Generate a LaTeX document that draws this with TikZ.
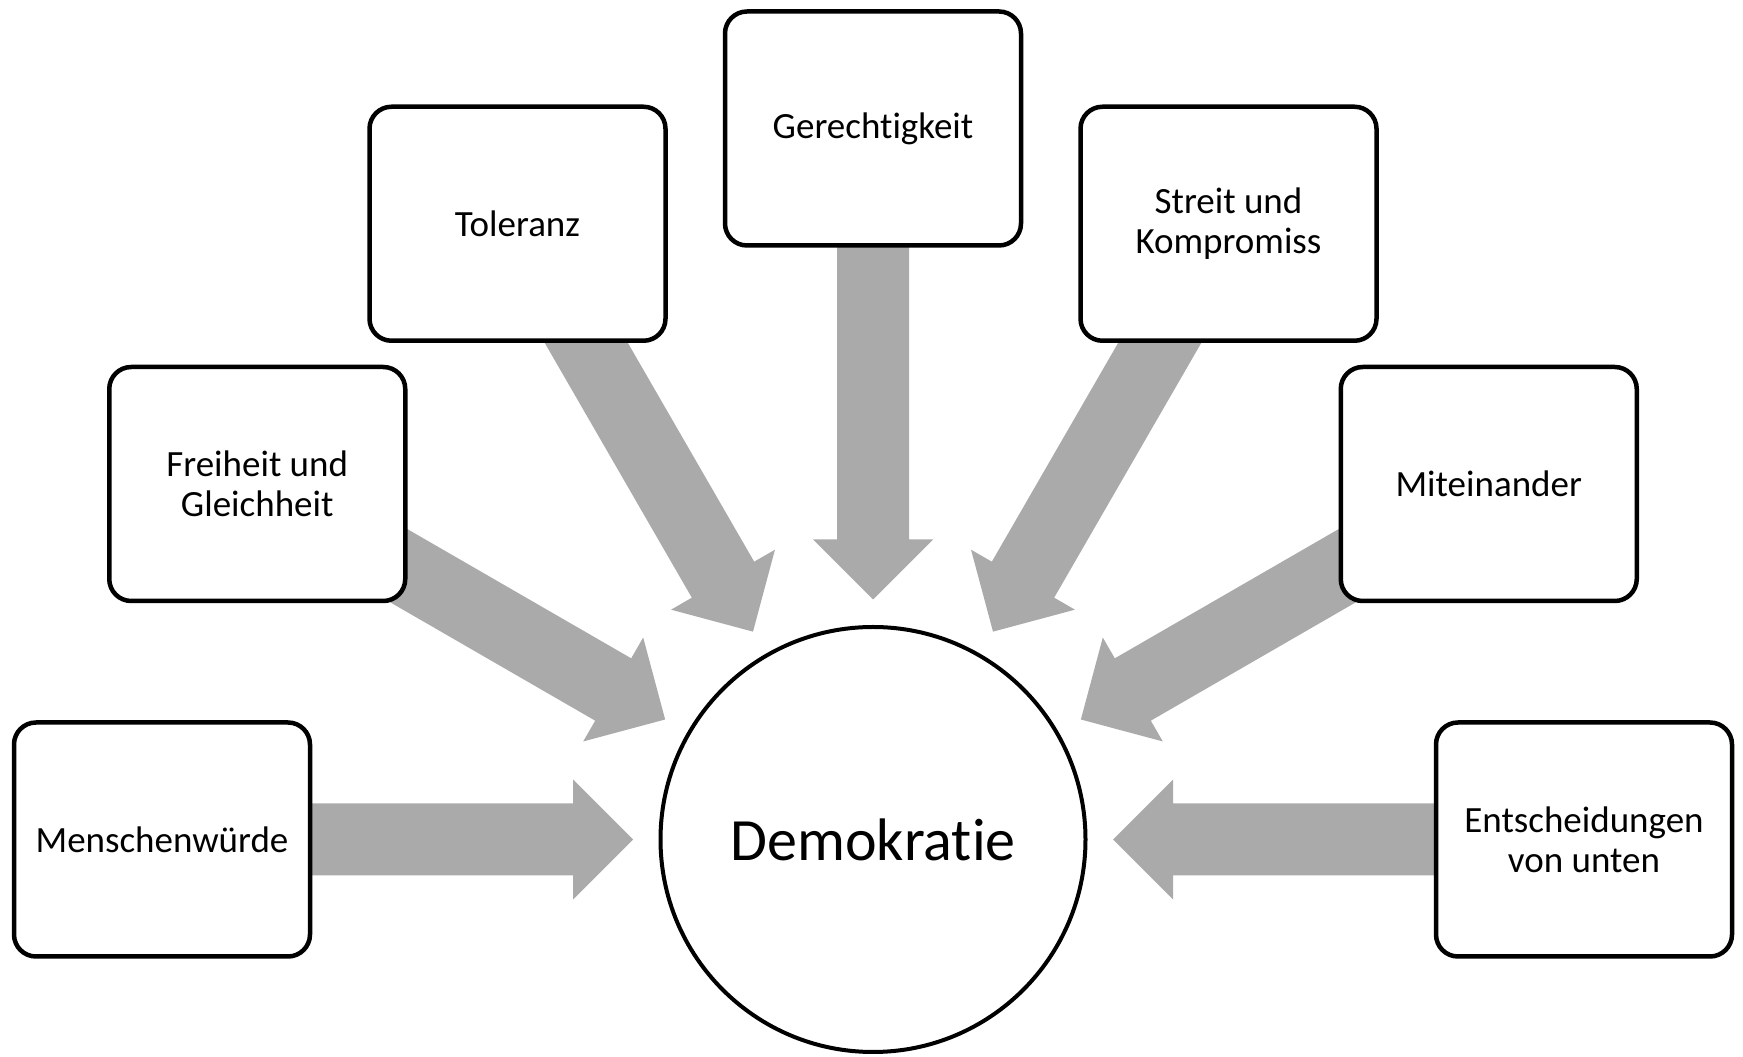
\documentclass[tikz,border=0pt]{standalone}
\usepackage{fontspec}
\setmainfont{Carlito}[Ligatures={NoCommon,NoContextual}]
\definecolor{arrowgray}{RGB}{170,170,170}
\newcommand{\nolig}{\kern0pt }
\begin{document}
\begin{tikzpicture}[x=1pt,y=1pt,
  box/.style={draw=black, line width=4.5pt, fill=white, rounded corners=22pt,
    minimum width=296pt, minimum height=234pt, align=center, inner sep=0pt,
    font=\fontsize{37}{40}\selectfont},
  core/.style={circle, draw=black, line width=4pt, fill=white, minimum size=425pt,
    inner sep=0pt, font=\fontsize{60}{72}\selectfont},
  blockarrow/.style={fill=arrowgray}]
\useasboundingbox (0,0) rectangle (1743,1057);
\coordinate (C) at (873,217.5);
% arrows (drawn first, boxes cover their tails)
\foreach \a in {180,150,120,90,60,30,0}{
  \fill[blockarrow, shift={(C)}, rotate=\a]
    (620,36) -- (300,36) -- (300,60) -- (240,0) -- (300,-60) -- (300,-36) -- (620,-36) -- cycle;
}
% boxes
\node[box] (mw) at ([shift={(180:711)}]C) {Menschenwürde};
\node[box] (fg) at ([shift={(150:711)}]C) {Freiheit und\\Gleichheit};
\node[box] (to) at ([shift={(120:711)}]C) {Toleranz};
\node[box] (ge) at ([shift={(90:711)}]C) {Gerecht\nolig igkeit};
\node[box] (sk) at ([shift={(60:711)}]C) {Streit und\\Kompromiss};
\node[box] (mi) at ([shift={(30:711)}]C) {Miteinander};
\node[box] (ev) at ([shift={(0:711)}]C) {Entscheidungen\\von unten};
% centre
\node[core] (demo) at (C) {Demokrat\nolig ie};
\end{tikzpicture}
\end{document}
